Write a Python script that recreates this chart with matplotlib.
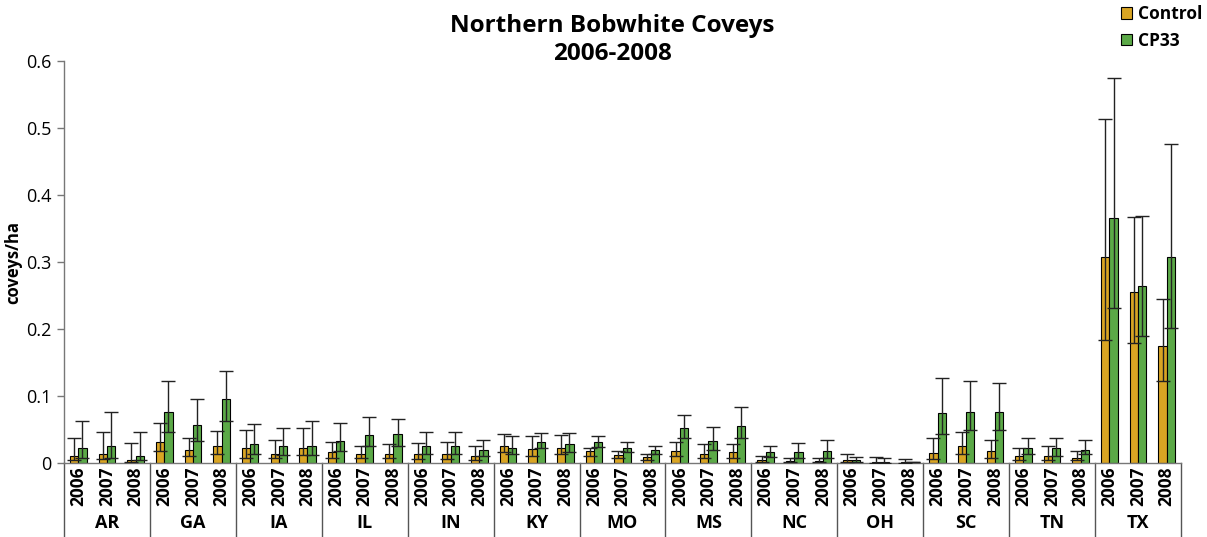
import numpy as np
import matplotlib
matplotlib.use("Agg")
import matplotlib.pyplot as plt
from matplotlib.transforms import blended_transform_factory
from matplotlib.ticker import FuncFormatter
from matplotlib.patches import Patch

plt.rcParams['font.family'] = ['Open Sans', 'DejaVu Sans']

states = ["AR", "GA", "IA", "IL", "IN", "KY", "MO", "MS", "NC", "OH", "SC", "TN", "TX"]
years = ["2006", "2007", "2008"]

control = [0.011, 0.014, 0.005, 0.032, 0.019, 0.026, 0.023, 0.013, 0.023,
           0.016, 0.013, 0.014, 0.014, 0.013, 0.011, 0.026, 0.021, 0.023,
           0.018, 0.012, 0.009, 0.018, 0.014, 0.016, 0.005, 0.003, 0.003,
           0.005, 0.0015, 0.001, 0.015, 0.025, 0.018, 0.010, 0.010, 0.008,
           0.307, 0.255, 0.174]
control_hi = [0.038, 0.046, 0.030, 0.059, 0.038, 0.048, 0.050, 0.035, 0.052,
              0.032, 0.026, 0.029, 0.030, 0.032, 0.025, 0.044, 0.040, 0.042,
              0.023, 0.018, 0.014, 0.032, 0.028, 0.028, 0.011, 0.008, 0.008,
              0.014, 0.009, 0.006, 0.037, 0.046, 0.035, 0.023, 0.025, 0.018,
              0.513, 0.367, 0.245]
control_lo = [0.005, 0.006, 0.001, 0.018, 0.010, 0.013, 0.008, 0.007, 0.012,
              0.007, 0.007, 0.007, 0.006, 0.006, 0.005, 0.017, 0.011, 0.014,
              0.010, 0.008, 0.005, 0.010, 0.007, 0.008, 0.002, 0.001, 0.001,
              0.001, 0.0, 0.0, 0.006, 0.013, 0.008, 0.005, 0.005, 0.004,
              0.184, 0.179, 0.122]

cp33 = [0.023, 0.025, 0.011, 0.076, 0.057, 0.095, 0.028, 0.026, 0.026,
        0.033, 0.042, 0.043, 0.026, 0.025, 0.019, 0.023, 0.032, 0.028,
        0.032, 0.023, 0.019, 0.052, 0.033, 0.055, 0.016, 0.016, 0.018,
        0.004, 0.0015, 0.0015, 0.075, 0.076, 0.076, 0.023, 0.022, 0.020,
        0.365, 0.264, 0.308]
cp33_hi = [0.062, 0.076, 0.046, 0.122, 0.095, 0.137, 0.058, 0.052, 0.062,
           0.059, 0.069, 0.066, 0.047, 0.047, 0.035, 0.040, 0.045, 0.045,
           0.040, 0.032, 0.026, 0.071, 0.054, 0.083, 0.026, 0.030, 0.035,
           0.009, 0.008, 0.002, 0.127, 0.122, 0.120, 0.038, 0.037, 0.035,
           0.575, 0.369, 0.476]
cp33_lo = [0.007, 0.007, 0.004, 0.047, 0.033, 0.063, 0.013, 0.012, 0.012,
           0.018, 0.026, 0.026, 0.014, 0.013, 0.011, 0.013, 0.022, 0.017,
           0.024, 0.016, 0.013, 0.038, 0.019, 0.038, 0.009, 0.007, 0.008,
           0.001, 0.0, 0.001, 0.044, 0.049, 0.049, 0.014, 0.011, 0.013,
           0.231, 0.189, 0.201]

col_control = "#D9A523"
col_cp33 = "#5BA947"

W, H = 1207, 537
fig = plt.figure(figsize=(W / 100, H / 100), dpi=100)
ax_left, ax_right, ax_top, ax_bottom = 64, 1181, 61, 463
ax = fig.add_axes([ax_left / W, (H - ax_bottom) / H,
                   (ax_right - ax_left) / W, (ax_bottom - ax_top) / H])

n = len(control)
x = np.arange(n)
bw = 0.29

c = np.array(control)
p = np.array(cp33)
ax.bar(x - bw / 2, c, bw, color=col_control, edgecolor="black", linewidth=0.8, zorder=2)
ax.bar(x + bw / 2, p, bw, color=col_cp33, edgecolor="black", linewidth=0.8, zorder=2)

err_c = [c - np.array(control_lo), np.array(control_hi) - c]
err_p = [p - np.array(cp33_lo), np.array(cp33_hi) - p]
for xs, ys, err in [(x - bw / 2, c, err_c), (x + bw / 2, p, err_p)]:
    ax.errorbar(xs, ys, yerr=err, fmt="none", ecolor="#222222",
                elinewidth=1.0, capsize=5, capthick=1.0, zorder=3)

ax.set_xlim(-0.5, n - 0.5)
ax.set_ylim(0, 0.6)
ax.set_yticks(np.arange(0, 0.61, 0.1))
ax.yaxis.set_major_formatter(FuncFormatter(lambda v, _: "%g" % round(v, 2)))
ax.tick_params(axis="y", direction="out", length=5, width=1, color="#777777",
               labelsize=13, pad=4)
ax.set_xticks([])

for s in ["top", "right"]:
    ax.spines[s].set_visible(False)
for s in ["left", "bottom"]:
    ax.spines[s].set_color("#777777")
    ax.spines[s].set_linewidth(1.0)

ax.set_ylabel("coveys/ha", fontsize=12, fontweight="bold")
ax_h = ax_bottom - ax_top
ax.yaxis.set_label_coords((22 - ax_left) / (ax_right - ax_left), (ax_bottom - 263) / ax_h)

# grouped category labels below the axis: years, then states, with separators
tr = blended_transform_factory(ax.transData, ax.transAxes)
for i in range(n):
    ax.text(i, -4 / ax_h, years[i % 3], transform=tr, rotation=90,
            ha="center", va="top", fontsize=12.5, fontweight="bold", clip_on=False)
for g, st in enumerate(states):
    ax.text(g * 3 + 1, -(523 - ax_bottom) / ax_h, st, transform=tr, ha="center",
            va="center", fontsize=13, fontweight="bold", clip_on=False)
bottom_y = -(H - ax_bottom) / ax_h
for g in range(len(states) + 1):
    xs = g * 3 - 0.5
    ax.plot([xs, xs], [0, bottom_y], transform=tr, color="#555555",
            linewidth=1.0, clip_on=False)

fig.text(612 / W, 1 - 40 / H, "Northern Bobwhite Coveys\n2006-2008",
         ha="center", va="center", fontsize=17.5, fontweight="bold", linespacing=1.2)

handles = [Patch(facecolor=col_control, edgecolor="black", linewidth=0.8, label="Control"),
           Patch(facecolor=col_cp33, edgecolor="black", linewidth=0.8, label="CP33")]
fig.legend(handles=handles, loc="upper left", bbox_to_anchor=(1121 / W, 1 - 5 / H),
           frameon=False, borderpad=0, borderaxespad=0,
           prop={"size": 12.5, "weight": "bold"},
           handlelength=0.65, handleheight=0.65, handletextpad=0.35, labelspacing=0.5)

fig.savefig("out.png", dpi=100)
